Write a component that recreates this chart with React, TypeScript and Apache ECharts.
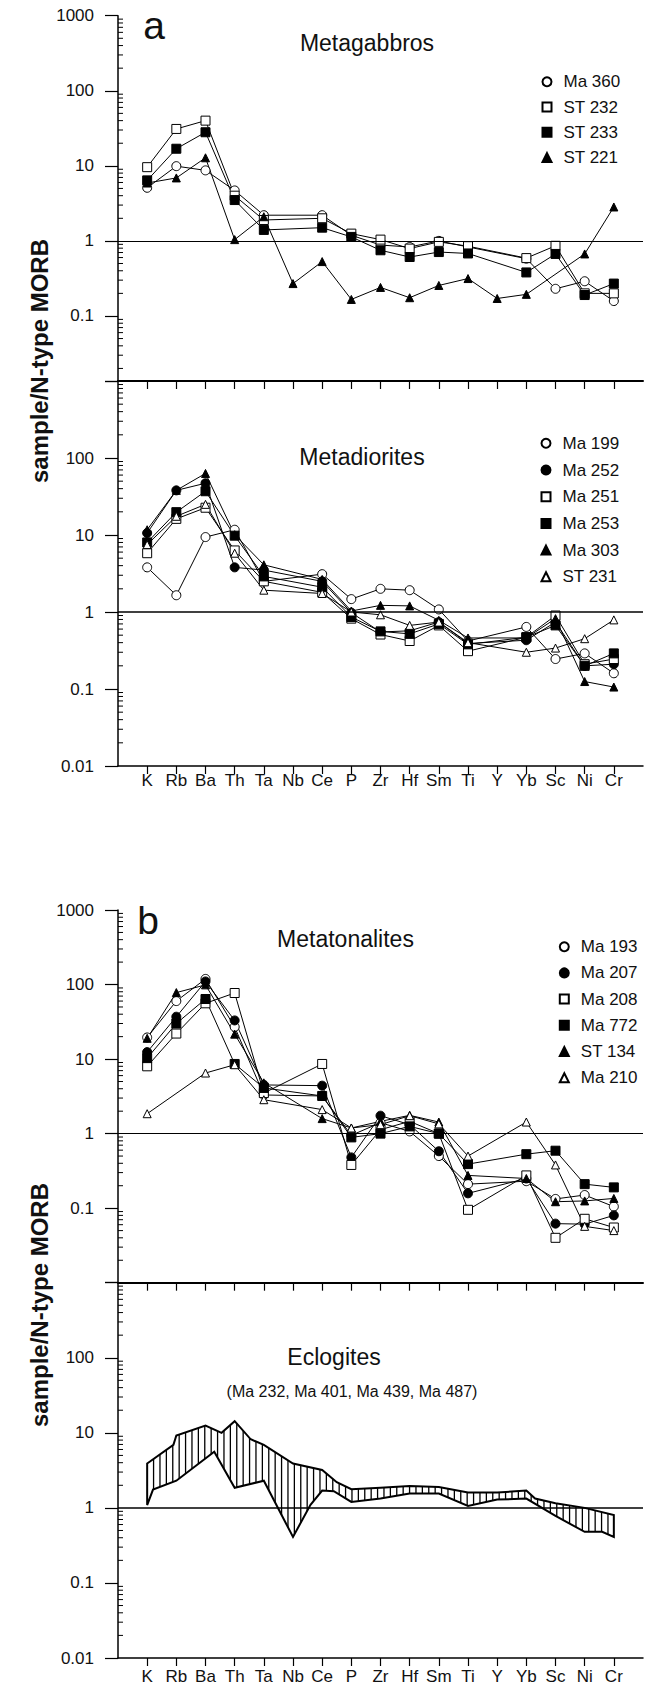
import React, { useEffect, useRef } from 'react';
import * as echarts from 'echarts';

const FONT = '"Liberation Sans", Arial, Helvetica, sans-serif';

// ---- categories (x axis) ----
const elements = ['K', 'Rb', 'Ba', 'Th', 'Ta', 'Nb', 'Ce', 'P', 'Zr', 'Hf', 'Sm', 'Ti', 'Y', 'Yb', 'Sc', 'Ni', 'Cr'];
const axisCategories = ['', ...elements, ' '];

// ---- y tick labels ----
const yTickLabelsUpperA = ['0.1', '1', '10', '100', '1000'];
const yTickLabelsUpperB = ['0.1', '1', '10', '100', '1000'];
const yTickLabelsLower = ['0.01', '0.1', '1', '10', '100'];
const minorMultipliers = [2, 3, 4, 5, 6, 7, 8, 9];
const minorDecades = [0.01, 0.1, 1, 10, 100];

// ---- (a) Metagabbros ----
const ma360 = [5.1, 9.9, 8.7, 4.7, 2.2, null, 2.2, 1.19, 0.88, 0.83, 1.0, 0.83, null, 0.58, 0.23, 0.29, 0.158];
const st232 = [9.6, 31, 40, 4.0, 1.9, null, 2.0, 1.25, 1.04, 0.79, 0.97, 0.85, null, 0.59, 0.86, 0.2, 0.2];
const st233 = [6.4, 16.9, 28, 3.5, 1.4, null, 1.5, 1.13, 0.75, 0.61, 0.71, 0.68, null, 0.38, 0.67, 0.19, 0.27];
const st221 = [5.9, 6.9, 12.8, 1.04, 2.1, 0.27, 0.53, 0.166, 0.24, 0.175, 0.255, 0.315, 0.171, 0.194, null, 0.67, 2.83];

// ---- (a) Metadiorites ----
const ma199 = [3.8, 1.65, 9.4, 11.7, 2.5, null, 3.1, 1.47, 2.0, 1.92, 1.08, 0.42, null, 0.64, 0.245, 0.29, 0.16];
const ma252 = [10.6, 38, 47, 3.8, 3.5, null, 2.5, 0.98, 0.55, 0.57, 0.74, 0.39, null, 0.43, 0.74, 0.2, 0.21];
const ma251 = [5.8, 16.2, 22.6, 6.3, 2.5, null, 1.8, 0.82, 0.51, 0.42, 0.67, 0.31, null, 0.47, 0.9, 0.21, 0.245];
const ma253 = [8.0, 19.8, 37, 9.8, 2.9, null, 2.1, 0.86, 0.56, 0.52, 0.7, 0.38, null, 0.47, 0.67, 0.2, 0.29];
const ma303 = [11.7, 38, 63, 10.1, 4.1, null, 2.65, 1.03, 1.22, 1.2, 0.78, 0.46, null, 0.46, 0.82, 0.125, 0.106];
const st231 = [7.5, 17.5, 25, 5.8, 1.92, null, 1.74, 1.0, 0.92, 0.67, 0.74, 0.4, null, 0.3, 0.34, 0.45, 0.79];

// ---- (b) Metatonalites ----
const ma193 = [19.5, 60, 119, 27, 3.3, null, 3.2, 0.95, 1.4, 1.07, 0.5, 0.21, null, 0.23, 0.133, 0.15, 0.105];
const ma207 = [12.4, 37, 110, 33, 4.5, null, 4.4, 0.48, 1.74, 1.32, 0.58, 0.158, null, 0.25, 0.062, 0.061, 0.08];
const ma208 = [8.0, 22, 56, 77, 3.5, null, 8.6, 0.38, 1.13, 1.46, 1.0, 0.095, null, 0.275, 0.04, 0.072, 0.055];
const ma772 = [10.3, 30, 64, 8.6, 4.1, null, 3.2, 0.89, 1.0, 1.25, 1.0, 0.39, null, 0.53, 0.59, 0.21, 0.19];
const st134 = [19, 78, 99, 21.6, 4.8, null, 1.59, 1.19, 1.46, 1.76, 1.43, 0.275, null, 0.25, 0.122, 0.125, 0.135];
const ma210 = [1.85, null, 6.5, 8.4, 2.85, null, 2.1, 1.19, 1.32, 1.74, 1.35, 0.5, null, 1.43, 0.38, 0.057, 0.05];

// ---- (b) Eclogites envelope: [element index (may be fractional), value] ----
const eclogiteUpper = [
  [0, 3.9], [0.9, 6.9], [1, 9.2], [2, 12.5], [2.55, 10], [3, 14.3], [3.55, 8.2], [4, 6.9],
  [5, 3.9], [6, 3.2], [6.5, 2.2], [7, 1.77], [8, 1.85], [9, 1.95], [10, 1.9], [11, 1.6],
  [12, 1.6], [13, 1.7], [13.3, 1.33], [14, 1.15], [15, 1.0], [16, 0.8],
];
const eclogiteLower = [
  [0, 1.09], [0.2, 1.75], [1, 2.3], [2.3, 5.6], [3, 1.85], [4, 2.3], [5, 0.41], [5.6, 1.1],
  [6, 1.7], [6.4, 1.67], [7, 1.2], [8, 1.33], [9, 1.55], [10, 1.55], [11, 1.06], [12, 1.29],
  [13, 1.33], [14, 0.78], [15, 0.48], [15.6, 0.48], [16, 0.41],
];

const symbolStyles: Record<string, { symbol: string; size: number; fill: string }> = {
  openCircle: { symbol: 'circle', size: 9, fill: '#fff' },
  filledCircle: { symbol: 'circle', size: 9, fill: '#000' },
  openSquare: { symbol: 'rect', size: 9, fill: '#fff' },
  filledSquare: { symbol: 'rect', size: 9, fill: '#000' },
  openTriangle: { symbol: 'triangle', size: 8, fill: '#fff' },
  filledTriangle: { symbol: 'triangle', size: 8, fill: '#000' },
};

const groups = [
  {
    grid: 0,
    samples: [
      { name: 'Ma 360', values: ma360, kind: 'openCircle' },
      { name: 'ST 232', values: st232, kind: 'openSquare' },
      { name: 'ST 233', values: st233, kind: 'filledSquare' },
      { name: 'ST 221', values: st221, kind: 'filledTriangle' },
    ],
  },
  {
    grid: 1,
    samples: [
      { name: 'Ma 199', values: ma199, kind: 'openCircle' },
      { name: 'Ma 252', values: ma252, kind: 'filledCircle' },
      { name: 'Ma 251', values: ma251, kind: 'openSquare' },
      { name: 'Ma 253', values: ma253, kind: 'filledSquare' },
      { name: 'Ma 303', values: ma303, kind: 'filledTriangle' },
      { name: 'ST 231', values: st231, kind: 'openTriangle' },
    ],
  },
  {
    grid: 2,
    samples: [
      { name: 'Ma 193', values: ma193, kind: 'openCircle' },
      { name: 'Ma 207', values: ma207, kind: 'filledCircle' },
      { name: 'Ma 208', values: ma208, kind: 'openSquare' },
      { name: 'Ma 772', values: ma772, kind: 'filledSquare' },
      { name: 'ST 134', values: st134, kind: 'filledTriangle' },
      { name: 'Ma 210', values: ma210, kind: 'openTriangle' },
    ],
  },
];

const gridBoxes = [
  { top: 15.7, height: 365.3 },
  { top: 381, height: 385 },
  { top: 910, height: 372.7 },
  { top: 1282.7, height: 375.3 },
];
const yMins = [0.0136, 0.01, 0.01, 0.01];
const yLabelSets = [yTickLabelsUpperA, yTickLabelsLower, yTickLabelsUpperB, yTickLabelsLower];
const legendBoxes = [
  { left: 536.5, top: 68.2, gap: 8.3 },
  { left: 535.5, top: 429.8, gap: 9.7 },
  { left: 553.8, top: 933.2, gap: 9.2 },
];

function labelFor(v: number, shown: string[]) {
  for (const s of shown) {
    if (Math.abs(Math.log10(v) - Math.log10(Number(s))) < 1e-6) return s;
  }
  return '';
}

function buildOption() {
  const grids = gridBoxes.map((g) => ({ left: 118, width: 525, top: g.top, height: g.height, outerBoundsMode: 'none' }));

  const xAxes = gridBoxes.map((_, gi) => {
    const isBottom = gi === 1 || gi === 3;
    return {
      type: 'category',
      gridIndex: gi,
      data: axisCategories,
      boundaryGap: false,
      axisLine: { show: true, onZero: false, lineStyle: { color: '#000', width: isBottom ? 1.5 : 2 } },
      axisTick: {
        show: true,
        length: 8,
        interval: (i: number) => i > 0 && i < axisCategories.length - 1,
        lineStyle: { color: '#000', width: 1.2 },
      },
      axisLabel: {
        show: isBottom,
        interval: 0,
        margin: gi === 1 ? 6 : 10,
        fontSize: 17,
        color: '#111',
        fontFamily: FONT,
      },
      splitLine: { show: false },
    };
  });

  const yAxes = gridBoxes.map((_, gi) => ({
    type: 'log',
    logBase: 10,
    gridIndex: gi,
    min: yMins[gi],
    max: 1000,
    axisLine: { show: true, lineStyle: { color: '#000', width: 1.5 } },
    axisTick: { show: true, inside: false, length: 13, lineStyle: { color: '#000', width: 1.2 } },
    axisLabel: {
      show: true,
      margin: 24,
      fontSize: 17,
      color: '#111',
      fontFamily: FONT,
      formatter: (v: number) => labelFor(v, yLabelSets[gi]),
    },
    splitLine: { show: false },
  }));

  const series: any[] = [];

  // reference line at 1 in each panel
  gridBoxes.forEach((_, gi) => {
    series.push({
      type: 'line',
      name: 'ref' + gi,
      xAxisIndex: gi,
      yAxisIndex: gi,
      data: [],
      silent: true,
      markLine: {
        silent: true,
        symbol: ['none', 'none'],
        label: { show: false },
        lineStyle: { color: '#000', width: gi % 2 === 1 ? 1.5 : 1, type: 'solid' },
        data: [{ yAxis: 1 }],
      },
    });
  });

  // minor ticks (2..9 per decade) on each left axis
  const minorValues: number[] = [];
  minorDecades.forEach((d) => minorMultipliers.forEach((m) => minorValues.push(d * m)));
  gridBoxes.forEach((_, gi) => {
    series.push({
      type: 'custom',
      name: 'minor' + gi,
      xAxisIndex: gi,
      yAxisIndex: gi,
      silent: true,
      clip: false,
      data: minorValues.filter((v) => v > yMins[gi] && v < 1000).map((v) => [elements[0], v]),
      renderItem: (params: any, api: any) => {
        const cs = params.coordSys;
        const y = api.coord([elements[0], api.value(1)])[1];
        return {
          type: 'line',
          shape: { x1: cs.x, y1: y, x2: cs.x + 5, y2: y },
          style: { stroke: '#000', lineWidth: 1 },
        };
      },
    });
  });

  // sample lines
  groups.forEach((g) => {
    g.samples.forEach((s) => {
      const st = symbolStyles[s.kind];
      series.push({
        type: 'line',
        name: s.name,
        xAxisIndex: g.grid,
        yAxisIndex: g.grid,
        data: elements
          .map((e, i) => (s.values[i] == null ? null : [e, s.values[i]]))
          .filter((d) => d != null),
        symbol: st.symbol,
        symbolSize: st.size,
        showSymbol: true,
        showAllSymbol: true,
        lineStyle: { color: '#000', width: 1 },
        itemStyle: { color: st.fill, borderColor: '#000', borderWidth: 1 },
        emphasis: { disabled: true },
        z: 3,
      });
    });
  });

  // eclogite envelope with vertical hatching
  series.push({
    type: 'custom',
    name: 'Eclogites',
    xAxisIndex: 3,
    yAxisIndex: 3,
    silent: true,
    clip: false,
    data: [[elements[0], 1]],
    renderItem: (params: any, api: any) => {
      const px = (p: number[]) => {
        const i = Math.floor(p[0]);
        const f = p[0] - i;
        const j = Math.min(i + 1, elements.length - 1);
        const a = api.coord([elements[i], p[1]]);
        const b = api.coord([elements[j], p[1]]);
        return [a[0] + f * (b[0] - a[0]), a[1]];
      };
      const up = eclogiteUpper.map(px);
      const lo = eclogiteLower.map(px);
      const interp = (pts: number[][], x: number) => {
        for (let k = 0; k < pts.length - 1; k++) {
          const p0 = pts[k];
          const p1 = pts[k + 1];
          if (x >= p0[0] && x <= p1[0]) {
            const dx = p1[0] - p0[0];
            return dx === 0 ? p1[1] : p0[1] + ((x - p0[0]) / dx) * (p1[1] - p0[1]);
          }
        }
        return pts[pts.length - 1][1];
      };
      const children: any[] = [];
      const x0 = up[0][0];
      const x1 = up[up.length - 1][0];
      for (let x = x0 + 6.4; x < x1; x += 6.4) {
        children.push({
          type: 'line',
          shape: { x1: x, y1: interp(up, x), x2: x, y2: interp(lo, x) },
          style: { stroke: '#000', lineWidth: 1.3 },
        });
      }
      children.push({
        type: 'polygon',
        shape: { points: [...up, ...lo.slice().reverse()] },
        style: { fill: 'none', stroke: '#000', lineWidth: 2, lineJoin: 'miter' },
      });
      return { type: 'group', children };
    },
  });

  const legends = groups.map((g, k) => ({
    orient: 'vertical',
    left: legendBoxes[k].left,
    top: legendBoxes[k].top,
    itemWidth: 9,
    itemHeight: 9,
    itemGap: legendBoxes[k].gap,
    selectedMode: false,
    data: g.samples.map((s) => ({ name: s.name, icon: symbolStyles[s.kind].symbol })),
    textStyle: { fontSize: 17, color: '#111', fontFamily: FONT, padding: [0, 0, 0, 7] },
  }));

  const txt = (text: string, x: number, y: number, size: number, bold = false, rotation = 0) => ({
    type: 'text',
    x,
    y,
    rotation,
    style: {
      text,
      fontSize: size,
      fontFamily: FONT,
      fontWeight: bold ? 'bold' : 'normal',
      fill: '#111',
      textAlign: 'center',
      textVerticalAlign: 'middle',
      align: 'center',
      verticalAlign: 'middle',
    },
  });

  const graphic = [
    txt('a', 154, 25, 39),
    txt('b', 148, 920, 39),
    txt('Metagabbros', 367, 42.5, 23),
    txt('Metadiorites', 362, 457, 23),
    txt('Metatonalites', 345.5, 939, 23),
    txt('Eclogites', 334, 1357, 23),
    txt('(Ma 232, Ma 401, Ma 439, Ma 487)', 352, 1391, 16),
    txt('sample/N-type MORB', 39, 361, 24, true, Math.PI / 2),
    txt('sample/N-type MORB', 39, 1305, 24, true, Math.PI / 2),
  ];

  return {
    animation: false,
    backgroundColor: '#fff',
    textStyle: { fontFamily: FONT },
    grid: grids,
    xAxis: xAxes,
    yAxis: yAxes,
    legend: legends,
    series,
    graphic,
  };
}

export default function App() {
  const ref = useRef<HTMLDivElement>(null);
  useEffect(() => {
    if (!ref.current) return;
    const chart = echarts.init(ref.current, undefined, { renderer: 'svg' });
    chart.setOption(buildOption() as any);
    return () => chart.dispose();
  }, []);
  return (
    <div
      ref={ref}
      style={{ position: 'absolute', left: 0, top: 0, width: 651, height: 1693, background: '#fff' }}
    />
  );
}
